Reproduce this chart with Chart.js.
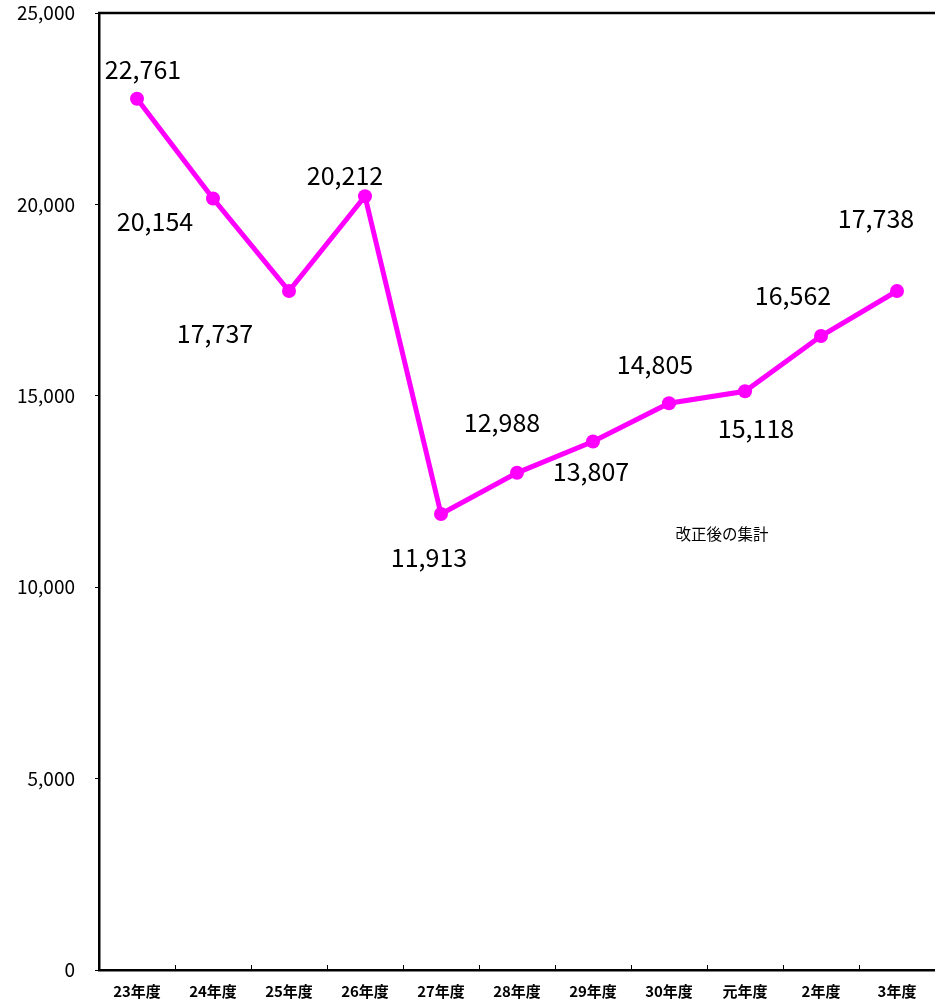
<!DOCTYPE html>
<html>
<head>
<meta charset="utf-8">
<script src="https://cdn.jsdelivr.net/npm/chart.js@4.4.0/dist/chart.umd.min.js"></script>
<style>
html,body{margin:0;padding:0;background:#fff;overflow:hidden;}
#wrap{width:935px;height:1001px;position:relative;}
canvas{display:block;}
</style>
</head>
<body>
<div id="wrap"><canvas id="c" width="935" height="1001"></canvas></div>
<script>
const categories = ["23年度","24年度","25年度","26年度","27年度","28年度","29年度","30年度","元年度","2年度","3年度"];
const values = [22761, 20154, 17737, 20212, 11913, 12988, 13807, 14805, 15118, 16562, 17738];
const yTicks = [0, 5000, 10000, 15000, 20000, 25000];
const noteText = "改正後の集計";

const FONT = '"Noto Sans CJK JP", "Noto Sans", sans-serif';
// label offsets relative to point (styling)
const labelOffsets = [[6,-29],[-58,23],[-74,42],[-20,-21],[-12,44],[-15,-50],[-2,30],[-14,-39],[11,37],[-28,-41],[-21,-72]];

const decor = {
  id: 'decor',
  afterDatasetsDraw(chart) {
    const ctx = chart.ctx;
    const a = chart.chartArea;
    const xs = chart.scales.x;
    ctx.save();
    ctx.strokeStyle = '#000';
    ctx.lineWidth = 2.5;
    ctx.beginPath();
    ctx.moveTo(a.left - 1, a.top);
    ctx.lineTo(a.right + 2, a.top);
    ctx.stroke();
    ctx.lineWidth = 1;
    for (let i = 1; i < categories.length; i++) {
      const x = Math.round((xs.getPixelForValue(i - 1) + xs.getPixelForValue(i)) / 2) + 0.5;
      ctx.beginPath();
      ctx.moveTo(x, a.bottom);
      ctx.lineTo(x, a.bottom - 5);
      ctx.stroke();
    }
    const meta = chart.getDatasetMeta(0);
    ctx.fillStyle = '#000';
    ctx.font = '25px ' + FONT;
    ctx.textAlign = 'center';
    ctx.textBaseline = 'middle';
    meta.data.forEach((pt, i) => {
      const o = labelOffsets[i];
      ctx.fillText(values[i].toLocaleString('en-US'), pt.x + o[0], pt.y + o[1]);
    });
    ctx.font = '15.5px ' + FONT;
    ctx.fillText(noteText, 722, 534);
    ctx.restore();
  }
};

new Chart(document.getElementById('c'), {
  type: 'line',
  data: {
    labels: categories,
    datasets: [{
      data: values,
      borderColor: '#FF00FF',
      backgroundColor: '#FF00FF',
      borderWidth: 5,
      pointRadius: 7,
      pointHoverRadius: 7,
      pointBackgroundColor: '#FF00FF',
      pointBorderWidth: 0,
      tension: 0,
      fill: false,
      clip: false
    }]
  },
  options: {
    responsive: false,
    animation: false,
    devicePixelRatio: 1,
    layout: { autoPadding: false, padding: { top: 13, right: 0, left: 0, bottom: 0 } },
    plugins: { legend: { display: false }, tooltip: { enabled: false } },
    scales: {
      x: {
        type: 'category',
        offset: true,
        grid: { display: false },
        border: { display: true, color: '#000', width: 2.5 },
        ticks: { color: '#000', font: { family: FONT, size: 15, weight: 'bold' }, padding: 4, maxRotation: 0 },
        afterFit(s) { s.height = 31; s.paddingLeft = 0; s.paddingRight = 0; }
      },
      y: {
        min: 0, max: 25000,
        afterBuildTicks(s) { s.ticks = yTicks.map(v => ({ value: v })); },
        grid: { drawOnChartArea: false, tickLength: 4, color: '#000', lineWidth: 1 },
        border: { display: true, color: '#000', width: 2.5 },
        ticks: {
          color: '#000',
          font: { family: FONT, size: 19 },
          padding: 20,
          callback: v => Number(v).toLocaleString('en-US')
        },
        afterFit(s) { s.width = 99; s.paddingTop = 0; s.paddingBottom = 0; }
      }
    }
  },
  plugins: [decor]
});
</script>
</body>
</html>
